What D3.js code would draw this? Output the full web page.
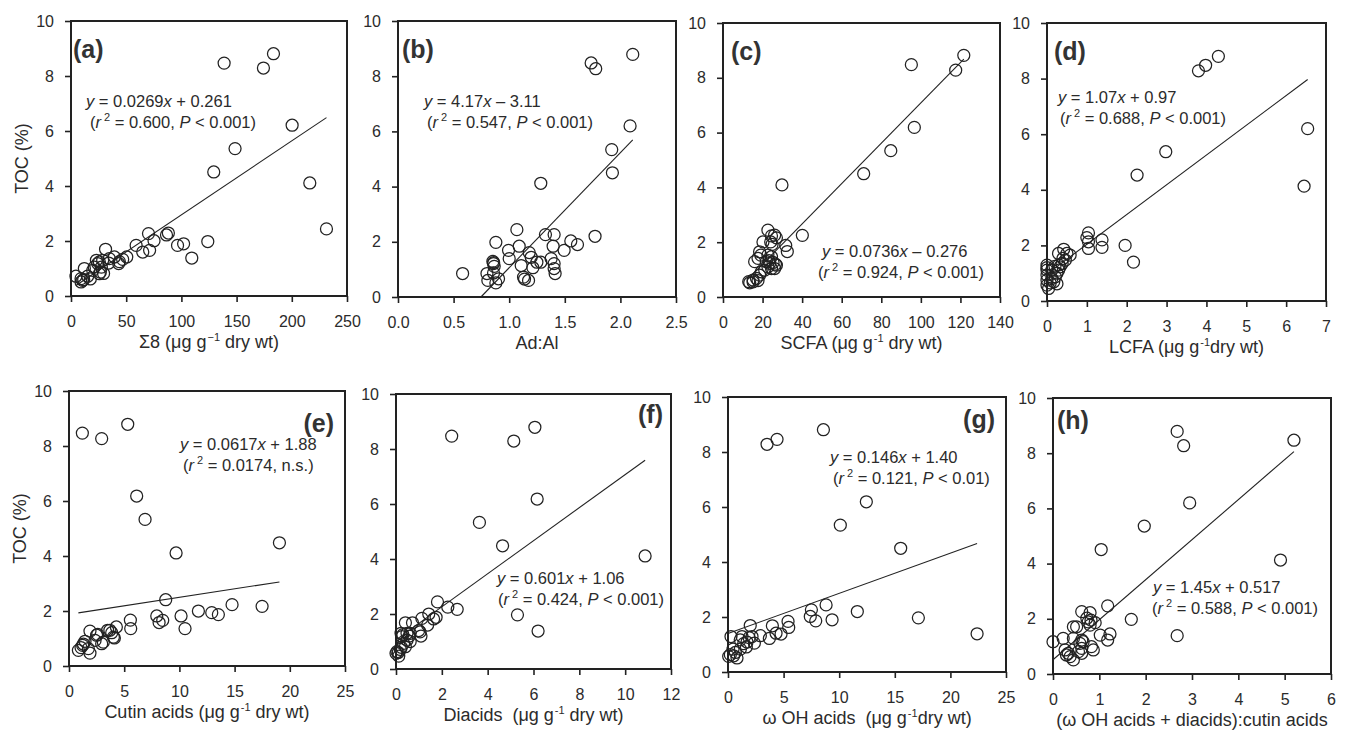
<!DOCTYPE html>
<html>
<head>
<meta charset="utf-8">
<script src="https://cdn.jsdelivr.net/npm/d3@7"></script>
<style>
  body { margin: 0; background: #fff; }
  svg { display: block; font-family: "Liberation Sans", Arial, sans-serif; }
</style>
</head>
<body>
<div id="chart"></div>
<script>
// one [x, TOC %] pair per sample
const sigma8Toc = [[138.7,8.47],[174.3,8.29],[183.4,8.81],[200.3,6.21],[148.6,5.36],[129.3,4.51],[216.3,4.11],[231.4,2.44],[123.9,1.98],[109.4,1.38],[102,1.9],[96.5,1.84],[86.5,2.22],[88.2,2.29],[75.2,2.01],[70.2,2.27],[71.2,1.66],[65,1.6],[59,1.84],[31.3,1.7],[50.5,1.42],[46.8,1.33],[43.8,1.25],[43.2,1.18],[39.3,1.42],[34.7,1.36],[34.2,1.2],[28.7,1.3],[25.7,1.24],[24.2,1.18],[26.6,0.87],[25.7,0.81],[21.1,1.05],[19.7,0.93],[12.1,1.0],[15.1,0.72],[4.5,0.72],[9.1,0.63],[10.6,0.57],[9.1,0.51],[27.5,1.05],[29.5,0.82],[23,1.3],[11.5,0.6],[17.5,0.62]];
const adAlToc = [[1.737,8.48],[1.778,8.27],[2.111,8.79],[2.087,6.2],[1.922,5.34],[1.928,4.5],[1.284,4.12],[1.069,2.44],[1.326,2.26],[1.404,2.26],[1.772,2.2],[1.554,2.03],[1.614,1.9],[1.494,1.69],[1.395,1.84],[1.09,1.84],[0.88,1.98],[0.994,1.69],[1.0,1.39],[1.18,1.61],[1.198,1.44],[1.213,1.06],[1.249,1.26],[1.284,1.26],[1.377,1.39],[1.404,1.21],[1.404,1.03],[1.413,0.85],[1.108,1.14],[1.129,0.72],[1.138,0.65],[1.174,0.6],[0.853,1.29],[0.859,1.21],[0.865,1.11],[0.86,1.25],[0.8,0.85],[0.808,0.6],[0.859,0.87],[0.88,0.51],[0.904,0.66],[0.581,0.85]];
const scfaToc = [[95.2,8.48],[117.6,8.28],[121.7,8.82],[96.7,6.19],[84.8,5.34],[71.1,4.5],[29.8,4.09],[40.1,2.25],[32.5,1.66],[31.7,1.88],[22.7,2.44],[26.1,2.26],[27,2.16],[24.5,2.23],[20.2,2.01],[24.1,2.01],[24.8,1.92],[18.5,1.65],[19.1,1.53],[17.7,1.41],[16,1.29],[22.7,1.53],[24.5,1.47],[21.9,1.29],[23.6,1.23],[25.3,1.26],[27,1.16],[22.7,1.1],[24.5,1.04],[26.1,1.04],[21.1,0.98],[19.4,0.92],[18.5,0.8],[16.9,0.68],[15.2,0.62],[13.5,0.52],[13,0.56],[15.2,0.55],[17.7,0.6],[26.5,1.2],[23.2,1.33]];
const lcfaToc = [[3.8,8.28],[3.98,8.48],[4.3,8.8],[6.54,6.2],[6.45,4.13],[2.98,5.37],[2.26,4.53],[1.96,2.0],[2.17,1.4],[1.38,2.2],[1.38,1.93],[1.04,2.45],[1.0,2.28],[1.04,2.13],[1.04,1.89],[0.42,1.86],[0.29,1.71],[0.5,1.71],[0.58,1.65],[0.4,1.53],[0.46,1.47],[0.38,1.35],[0.33,1.23],[0.29,1.11],[0.25,1.0],[0.21,0.87],[0.17,0.69],[0.25,0.62],[0,1.29],[0,1.2],[0,1.11],[0,0.93],[0,0.75],[0,0.57],[0.04,0.45],[0.12,1.11],[0.12,0.81],[0.2,1.25],[0.08,0.65],[0.3,1.3]];
const cutinToc = [[1.21,8.47],[2.96,8.27],[5.32,8.79],[6.13,6.18],[6.89,5.33],[9.7,4.11],[19.06,4.48],[8.76,2.41],[14.77,2.23],[17.49,2.17],[11.72,2.0],[12.93,1.94],[13.53,1.87],[10.15,1.82],[7.95,1.82],[8.16,1.58],[8.49,1.66],[10.51,1.36],[5.56,1.67],[5.59,1.36],[4.29,1.42],[3.5,1.3],[3.87,1.21],[4.02,1.05],[4.11,1.02],[2.96,0.81],[3.11,0.87],[2.6,1.15],[2.5,1.12],[2.36,0.93],[1.9,1.27],[1.3,0.8],[1.45,0.9],[1.24,0.75],[0.85,0.57],[1.09,0.67],[1.75,0.63],[1.9,0.47],[3.7,1.3]];
const diacidToc = [[2.43,8.47],[5.14,8.29],[6.06,8.79],[6.16,6.18],[3.64,5.33],[4.65,4.48],[10.87,4.11],[5.3,1.97],[6.2,1.38],[2.67,2.17],[2.26,2.25],[1.81,2.44],[1.75,1.88],[1.64,1.82],[1.43,2.0],[1.38,1.6],[1.13,1.84],[1.09,1.2],[0.99,1.4],[1.05,1.35],[0.72,1.68],[0.41,1.68],[0.58,1.2],[0.62,1.0],[0.48,1.05],[0.41,0.81],[0.33,0.93],[0.26,1.18],[0.22,1.3],[0.23,0.79],[0.04,0.63],[0,0.57],[0.12,0.47],[0.19,0.71],[0.48,1.3],[0.62,1.3],[0.3,1.25],[0.1,0.6]];
const ohAcidToc = [[3.51,8.28],[4.41,8.46],[8.58,8.81],[12.44,6.19],[10.1,5.34],[15.53,4.5],[22.4,1.39],[17.12,1.97],[11.63,2.2],[8.82,2.44],[7.5,2.26],[7.4,2.02],[7.89,1.86],[9.36,1.9],[5.4,1.84],[5.46,1.62],[3.99,1.68],[4.32,1.41],[4.77,1.38],[3.72,1.22],[2.91,1.32],[2.0,1.69],[2.16,1.29],[2.37,1.05],[1.26,1.29],[1.1,1.17],[1.41,1.03],[1.65,0.91],[1.71,1.09],[0.27,1.29],[0.45,0.83],[0.66,0.71],[0.81,0.51],[0.21,0.63],[0.51,0.59],[0.06,0.57],[1.11,0.83],[1.9,1.25]];
const ratioToc = [[2.68,8.79],[2.82,8.27],[5.2,8.47],[2.95,6.2],[1.97,5.36],[1.04,4.51],[4.91,4.13],[2.68,1.39],[1.69,1.98],[1.18,2.47],[0.62,2.26],[0.8,2.22],[0.73,2.02],[0.76,1.89],[0.82,1.95],[0.91,1.86],[0.8,1.77],[0.44,1.71],[0.51,1.71],[1.02,1.41],[1.23,1.45],[1.18,1.23],[0,1.17],[0.22,1.29],[0.44,1.29],[0.62,1.23],[0.58,1.11],[0.65,1.17],[0.83,0.99],[0.87,0.87],[0.62,0.93],[0.55,0.81],[0.26,0.87],[0.29,0.69],[0.37,0.63],[0.44,0.51],[0.33,0.75],[0.62,0.75]];

const panelData = [sigma8Toc, adAlToc, scfaToc, lcfaToc, cutinToc, diacidToc, ohAcidToc, ratioToc];
const panelTags = ["(a)", "(b)", "(c)", "(d)", "(e)", "(f)", "(g)", "(h)"];
const xMax = [250, 2.5, 140, 7, 25, 12, 25, 6];
const xStep = [50, 0.5, 20, 1, 5, 2, 5, 1];
const yTicks = [0, 2, 4, 6, 8, 10];

// regression fits
const slopes = [0.0269, 4.17, 0.0736, 1.07, 0.0617, 0.601, 0.146, 1.45];
const intercepts = [0.261, -3.11, -0.276, 0.97, 1.88, 1.06, 1.40, 0.517];
const slopeText = ["0.0269", "4.17", "0.0736", "1.07", "0.0617", "0.601", "0.146", "1.45"];
const interceptText = ["+ 0.261", "\u2013 3.11", "\u2013 0.276", "+ 0.97", "+ 1.88", "+ 1.06", "+ 1.40", "+ 0.517"];
const r2Text = ["0.600", "0.547", "0.924", "0.688", "0.0174", "0.424", "0.121", "0.588"];
const pText = ["< 0.001", "< 0.001", "< 0.001", "< 0.001", null, "< 0.001", "< 0.01", "< 0.001"];

// x axis titles: [before superscript, superscript, after]
const xTitles = [
  ["\u03A38 (\u03BCg g", "\u22121", " dry wt)"],
  ["Ad:Al", "", ""],
  ["SCFA (\u03BCg g", "-1", " dry wt)"],
  ["LCFA (\u03BCg g", "-1", "dry wt)"],
  ["Cutin acids (\u03BCg g", "-1", " dry wt)"],
  ["Diacids\u00A0 (\u03BCg g", "-1", " dry wt)"],
  ["\u03C9 OH acids\u00A0 (\u03BCg g", "-1", "dry wt)"],
  ["(\u03C9 OH acids + diacids):cutin acids", "", ""]
];

// frame boxes and label anchors in page pixels
const layout = [
  { l: 71,   r: 347,  t: 21,  b: 296, tag: [73, 58, "start"],   eq: [86, 107, 90, 128] },
  { l: 398,  r: 676,  t: 21,  b: 297, tag: [402, 58, "start"],  eq: [424, 107, 427, 128] },
  { l: 723,  r: 1000, t: 23,  b: 297, tag: [731, 60, "start"],  eq: [822, 257, 818, 278] },
  { l: 1047, r: 1326, t: 23,  b: 301, tag: [1054, 60, "start"], eq: [1058, 103, 1060, 124] },
  { l: 69,   r: 345,  t: 391, b: 666, tag: [334, 432, "end"],   eq: [180, 450, 183, 471] },
  { l: 396,  r: 671,  t: 394, b: 669, tag: [663, 423, "end"],   eq: [497, 584, 498, 605] },
  { l: 728,  r: 1006, t: 397, b: 672, tag: [995, 428, "end"],   eq: [830, 463, 833, 484] },
  { l: 1053, r: 1331, t: 398, b: 674, tag: [1057, 429, "start"], eq: [1153, 593, 1152, 614] }
];

const ink = "#222";
const textInk = "#2b2b2b";

const svg = d3.select("#chart").append("svg")
  .attr("width", 1346)
  .attr("height", 740);

function richText(sel, parts) {
  parts.forEach(p => {
    const t = sel.append("tspan").text(p.t);
    if (p.i) t.attr("font-style", "italic");
    if (p.sup) t.attr("font-size", 11).attr("dy", -7).attr("dx", p.dx || 0);
    if (p.down) t.attr("dy", 7);
  });
}

panelData.forEach((data, i) => {
  const box = layout[i];
  const x = d3.scaleLinear().domain([0, xMax[i]]).range([box.l, box.r]);
  const y = d3.scaleLinear().domain([0, 10]).range([box.b, box.t]);
  const g = svg.append("g");

  const fmt = xStep[i] < 1 ? d3.format(".1f") : d3.format("d");
  const xTicks = d3.range(0, xMax[i] + xStep[i] / 2, xStep[i]);

  const xAxis = g.append("g")
    .attr("transform", `translate(0,${box.b})`)
    .call(d3.axisBottom(x).tickValues(xTicks).tickFormat(fmt).tickSize(6).tickPadding(14));
  const yAxis = g.append("g")
    .attr("transform", `translate(${box.l},0)`)
    .call(d3.axisLeft(y).tickValues(yTicks).tickSize(6).tickPadding(11));

  [xAxis, yAxis].forEach(a => {
    a.select(".domain").remove();
    a.selectAll(".tick line").attr("stroke", ink).attr("stroke-width", 1.6);
    a.selectAll(".tick text").attr("fill", textInk).attr("font-size", 16)
      .attr("font-family", "Liberation Sans, Arial, sans-serif");
  });

  // frame
  g.append("rect")
    .attr("x", box.l).attr("y", box.t)
    .attr("width", box.r - box.l).attr("height", box.b - box.t)
    .attr("fill", "none").attr("stroke", ink).attr("stroke-width", 2);

  // regression line over the data range, clipped at TOC = 0
  const ext = d3.extent(data, d => d[0]);
  let x0 = ext[0];
  if (intercepts[i] < 0) x0 = Math.max(x0, -intercepts[i] / slopes[i]);
  const fit = [x0, ext[1]].map(v => [v, slopes[i] * v + intercepts[i]]);
  g.append("path")
    .datum(fit)
    .attr("fill", "none")
    .attr("stroke", ink)
    .attr("stroke-width", 1.1)
    .attr("d", d3.line().x(d => x(d[0])).y(d => y(d[1])));

  // samples
  g.selectAll("circle")
    .data(data)
    .join("circle")
    .attr("cx", d => x(d[0]))
    .attr("cy", d => y(d[1]))
    .attr("r", 6)
    .attr("fill", "none")
    .attr("stroke", ink)
    .attr("stroke-width", 1.25);

  // panel tag
  g.append("text")
    .attr("x", box.tag[0]).attr("y", box.tag[1])
    .attr("text-anchor", box.tag[2])
    .attr("font-size", 25).attr("font-weight", "bold")
    .attr("fill", "#333")
    .text(panelTags[i]);

  // equation
  const eq1 = g.append("text")
    .attr("x", box.eq[0]).attr("y", box.eq[1])
    .attr("font-size", 16.5).attr("fill", textInk);
  richText(eq1, [
    { t: "y", i: true },
    { t: " = " + slopeText[i] },
    { t: "x", i: true },
    { t: " " + interceptText[i] }
  ]);
  const eq2 = g.append("text")
    .attr("x", box.eq[2]).attr("y", box.eq[3])
    .attr("font-size", 16.5).attr("fill", textInk);
  const line2 = [
    { t: "(" },
    { t: "r", i: true },
    { t: "2", sup: true, dx: 3 },
    { t: " = " + r2Text[i] + ", ", down: true }
  ];
  if (pText[i]) {
    line2.push({ t: "P", i: true }, { t: " " + pText[i] + ")" });
  } else {
    line2.push({ t: "n.s.)" });
  }
  richText(eq2, line2);

  // x axis title
  const xt = g.append("text")
    .attr("x", (box.l + box.r) / 2).attr("y", box.b + 52)
    .attr("text-anchor", "middle")
    .attr("font-size", 18).attr("fill", textInk);
  const title = xTitles[i];
  if (title[1]) {
    richText(xt, [
      { t: title[0] },
      { t: title[1], sup: true, dx: 1 },
      { t: title[2], down: true }
    ]);
  } else {
    xt.text(title[0]);
  }

  // y axis title on the left column only
  if (i % 4 === 0) {
    const cy = (box.t + box.b) / 2;
    g.append("text")
      .attr("transform", `translate(${box.l - 43},${cy}) rotate(-90)`)
      .attr("text-anchor", "middle")
      .attr("font-size", 18).attr("fill", textInk)
      .text("TOC (%)");
  }
});
</script>
</body>
</html>
